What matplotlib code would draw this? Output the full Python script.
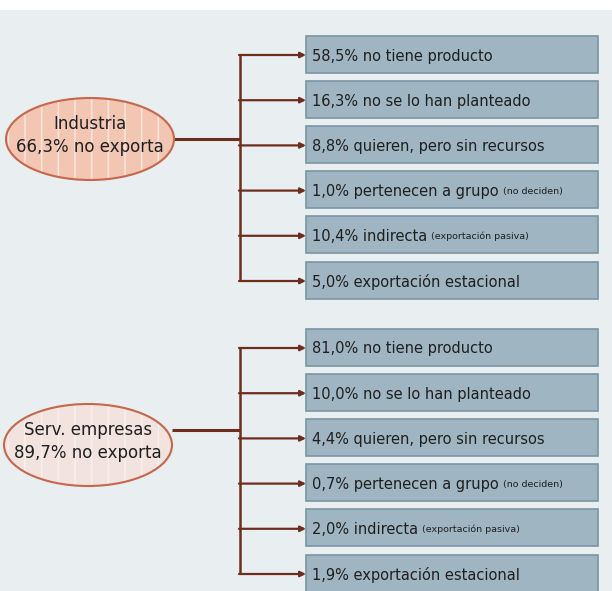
import matplotlib.pyplot as plt
from matplotlib.patches import Ellipse, Rectangle

plt.rcParams['font.family'] = ['DejaVu Sans']
plt.rcParams['hatch.linewidth'] = 1.2

# datos
grupos = ["Industria", "Serv. empresas"]
no_exporta = ["66,3%", "89,7%"]
motivos = ["no tiene producto", "no se lo han planteado", "quieren, pero sin recursos",
           "pertenecen a grupo", "indirecta", "exportación estacional"]
notas = ["", "", "", "(no deciden)", "(exportación pasiva)", ""]
pct_industria = ["58,5%", "16,3%", "8,8%", "1,0%", "10,4%", "5,0%"]
pct_servicios = ["81,0%", "10,0%", "4,4%", "0,7%", "2,0%", "1,9%"]
pcts = [pct_industria, pct_servicios]

fondo = '#E9EEF1'
caja = '#9FB5C1'
borde_caja = '#7C95A3'
marron = '#6E2E1E'
rellenos = ['#F2C6B2', '#F2E3DE']
rayas = ['#F9E4DA', '#F8EEEB']
borde_elipse = '#C4674C'
texto = '#1F1F1F'

fig = plt.figure(figsize=(6.12, 5.91), dpi=100)
fig.patch.set_facecolor('white')
ax = fig.add_axes([0, 0, 1, 1])
ax.set_xlim(0, 612)
ax.set_ylim(591, 0)
ax.axis('off')
ax.add_patch(Rectangle((0, 10), 612, 581, facecolor=fondo, edgecolor='none', zorder=0))

box_x, box_w, box_h = 306, 292, 37
paso = 45.2
linea_x = 240
inicio = [55, 348]
centro_elipse = [(90, 139), (88, 445)]
union_y = [139, 430]

for g in range(2):
    ys = [inicio[g] + i * paso for i in range(len(motivos))]
    # cajas
    for i, y in enumerate(ys):
        ax.add_patch(Rectangle((box_x, y - box_h / 2 - 1), box_w, box_h, facecolor=caja,
                               edgecolor=borde_caja, lw=1.2, zorder=2))
        t = ax.text(box_x + 6, y + 1, pcts[g][i] + " " + motivos[i], fontsize=10.5,
                    color=texto, va='center', ha='left', zorder=3)
        if notas[i]:
            ax.annotate(notas[i], xy=(1, 0.2), xycoords=t, xytext=(3, 0),
                        textcoords='offset points', fontsize=6.8, color=texto,
                        va='bottom', ha='left', zorder=3)
        ax.annotate("", xy=(box_x, y), xytext=(linea_x - 1, y),
                    arrowprops=dict(arrowstyle='-|>', color=marron, lw=1.6,
                                    mutation_scale=8, shrinkA=0, shrinkB=0), zorder=2)
    ax.plot([linea_x, linea_x], [ys[0], ys[-1]], color=marron, lw=1.8,
            solid_capstyle='butt', zorder=2)
    # elipse
    cx, cy = centro_elipse[g]
    ax.add_patch(Ellipse((cx, cy), 168, 82, facecolor=rellenos[g], edgecolor=rayas[g],
                         lw=0, hatch='|', zorder=2))
    ax.add_patch(Ellipse((cx, cy), 168, 82, facecolor='none', edgecolor=borde_elipse,
                         lw=1.5, zorder=3))
    ax.plot([cx + 84, linea_x], [union_y[g], union_y[g]], color=marron, lw=2.2,
            solid_capstyle='butt', zorder=2)
    ax.text(cx, cy - 15, grupos[g], fontsize=12, color=texto, ha='center', va='center', zorder=4)
    ax.text(cx, cy + 8, no_exporta[g] + " no exporta", fontsize=12, color=texto,
            ha='center', va='center', zorder=4)

fig.savefig('out.png', dpi=100, facecolor=fig.get_facecolor())
